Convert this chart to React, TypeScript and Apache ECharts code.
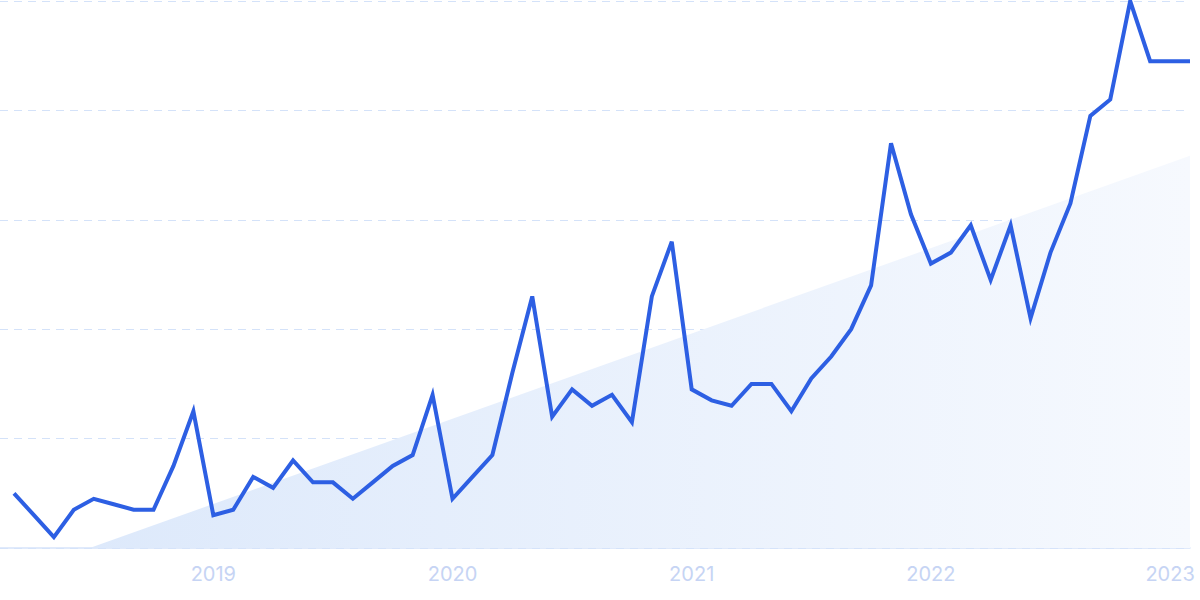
import { useEffect, useRef } from "react";
import * as echarts from "echarts";

// monthly points, March 2018 .. February 2023
const months = [
  "2018-03", "2018-04", "2018-05", "2018-06", "2018-07", "2018-08", "2018-09", "2018-10", "2018-11", "2018-12",
  "2019-01", "2019-02", "2019-03", "2019-04", "2019-05", "2019-06", "2019-07", "2019-08", "2019-09", "2019-10", "2019-11", "2019-12",
  "2020-01", "2020-02", "2020-03", "2020-04", "2020-05", "2020-06", "2020-07", "2020-08", "2020-09", "2020-10", "2020-11", "2020-12",
  "2021-01", "2021-02", "2021-03", "2021-04", "2021-05", "2021-06", "2021-07", "2021-08", "2021-09", "2021-10", "2021-11", "2021-12",
  "2022-01", "2022-02", "2022-03", "2022-04", "2022-05", "2022-06", "2022-07", "2022-08", "2022-09", "2022-10", "2022-11", "2022-12",
  "2023-01", "2023-02",
];

const interest = [
  10, 6, 2, 7, 9, 8, 7, 7, 15, 25,
  6, 7, 13, 11, 16, 12, 12, 9, 12, 15, 17, 28,
  9, 13, 17, 32, 46, 24, 29, 26, 28, 23, 46, 56,
  29, 27, 26, 30, 30, 25, 31, 35, 40, 48, 74, 61,
  52, 54, 59, 49, 59, 42, 54, 63, 79, 82, 100, 89,
  89, 89,
];

// trend band: [month index, value] at its two ends
const trend = [
  [3.8, 0],
  [59, 71.7],
];

export default function App() {
  const chartRef = useRef<HTMLDivElement>(null);

  useEffect(() => {
    if (!chartRef.current) return;
    const chart = echarts.init(chartRef.current, null, { renderer: "svg" });

    const option: echarts.EChartsOption = {
      animation: false,
      // grid 0: full-width gridlines + baseline, grid 1: the data
      grid: [
        { left: 0, right: 10, top: 1, bottom: 52 },
        { left: 14, right: 10, top: 1, bottom: 52 },
      ],
      xAxis: [
        {
          gridIndex: 0,
          type: "value",
          min: 0,
          max: 1,
          axisLine: { show: true, lineStyle: { color: "#d6e3fa", width: 1.5 } },
          axisTick: { show: false },
          axisLabel: { show: false },
          splitLine: { show: false },
        },
        {
          gridIndex: 1,
          type: "category",
          data: months,
          boundaryGap: false,
          axisLine: { show: false },
          axisTick: { show: false },
          axisLabel: {
            interval: (i: number) => months[i].endsWith("-01"),
            formatter: (v: string) => v.slice(0, 4),
            color: "#c6d4f4",
            fontSize: 20,
            fontFamily: "Inter",
            margin: 16,
          },
        },
        { gridIndex: 1, type: "value", min: 0, max: 59, show: false },
      ],
      yAxis: [
        {
          gridIndex: 0,
          type: "value",
          min: 0,
          max: 100,
          interval: 20,
          axisLabel: { show: false },
          axisLine: { show: false },
          axisTick: { show: false },
          splitLine: { lineStyle: { color: "#d4e2f9", type: [8, 6], width: 1 } },
        },
        { gridIndex: 1, type: "value", min: 0, max: 100, show: false },
      ],
      series: [
        {
          type: "line",
          xAxisIndex: 2,
          yAxisIndex: 1,
          data: trend,
          symbol: "none",
          lineStyle: { width: 0, opacity: 0 },
          areaStyle: {
            opacity: 1,
            color: new echarts.graphic.LinearGradient(0, 0, 1, 0, [
              { offset: 0, color: "#dde9fb" },
              { offset: 1, color: "#f6f9fe" },
            ]),
          },
          z: 1,
        },
        {
          type: "line",
          xAxisIndex: 1,
          yAxisIndex: 1,
          data: interest,
          symbol: "none",
          lineStyle: { color: "#2d5fe3", width: 4, join: "miter" },
          z: 3,
        },
      ],
    };
    chart.setOption(option);

    return () => chart.dispose();
  }, []);

  return (
    <div
      ref={chartRef}
      style={{ position: "fixed", left: 0, top: 0, width: "1200px", height: "600px", background: "#fff" }}
    />
  );
}
